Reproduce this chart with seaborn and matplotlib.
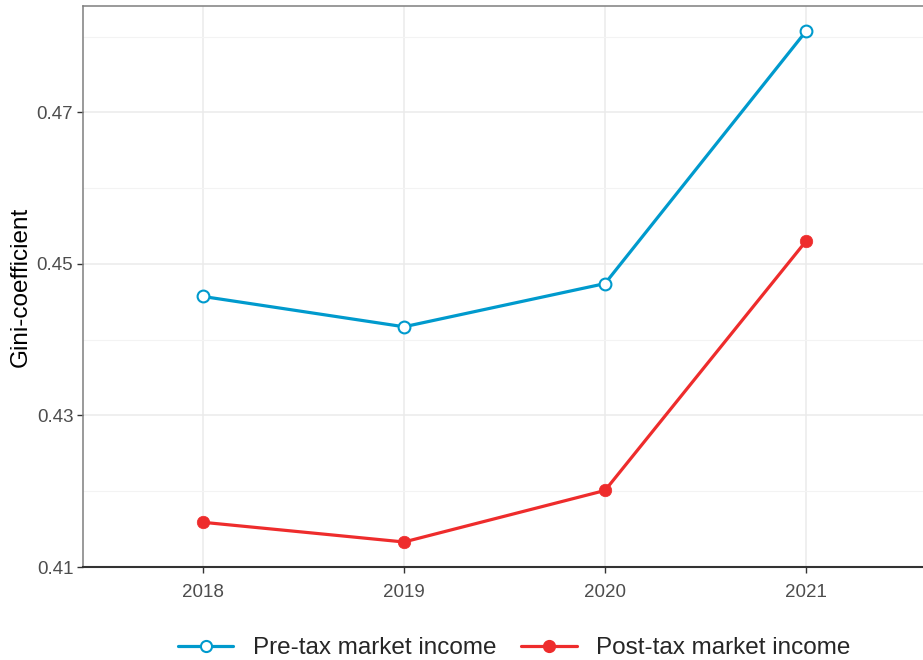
import matplotlib
matplotlib.use("Agg")
import matplotlib.pyplot as plt
import seaborn as sns
import pandas as pd
from matplotlib.lines import Line2D

years = [2018, 2019, 2020, 2021]
pre_tax = [0.4457, 0.4417, 0.4474, 0.4807]
post_tax = [0.4159, 0.4133, 0.4201, 0.4530]
series_names = ["Pre-tax market income", "Post-tax market income"]
y_ticks = [0.41, 0.43, 0.45, 0.47]
y_minor = [0.42, 0.44, 0.46, 0.48]
y_label = "Gini-coefficient"

df = pd.DataFrame({
    "year": years * 2,
    "gini": pre_tax + post_tax,
    "series": [series_names[0]] * len(years) + [series_names[1]] * len(years),
})

sns.set_theme(style="white")
plt.rcParams["font.family"] = ["Liberation Sans", "DejaVu Sans"]

blue = "#009ACD"
red = "#EE2C2C"

fig = plt.figure(figsize=(9.23, 6.60), dpi=100)
W, H = 923, 660
ax = fig.add_axes([83 / W, (660 - 567) / H, (926 - 83) / W, (567 - 6) / H])

sns.lineplot(data=df[df.series == series_names[0]], x="year", y="gini", ax=ax,
             color=blue, linewidth=2.3, marker="o", markersize=8.5,
             markerfacecolor="white", markeredgecolor=blue, markeredgewidth=1.5,
             legend=False, zorder=3)
sns.lineplot(data=df[df.series == series_names[1]], x="year", y="gini", ax=ax,
             color=red, linewidth=2.3, marker="o", markersize=9,
             markerfacecolor=red, markeredgecolor=red, markeredgewidth=0.5,
             legend=False, zorder=3)

ax.set_xlim(2017.403, 2021.597)
ax.set_ylim(0.41, 0.48403)
ax.set_xticks(years)
ax.set_xticklabels([str(y) for y in years])
ax.set_yticks(y_ticks)
ax.set_yticklabels([f"{v:.2f}" for v in y_ticks])
ax.set_yticks(y_minor, minor=True)

ax.grid(True, which="major", color="#EBEBEB", linewidth=1.1, zorder=0)
ax.grid(True, which="minor", axis="y", color="#F3F3F3", linewidth=0.8, zorder=0)
ax.set_axisbelow(True)

ax.tick_params(axis="both", which="major", length=4, width=1.0, color="#333333",
               labelsize=13.5, labelcolor="#4D4D4D", pad=3, bottom=True, left=True)
ax.tick_params(axis="x", which="major", pad=8)
ax.tick_params(axis="both", which="minor", length=0)

for s in ["top", "right", "left"]:
    ax.spines[s].set_color("#7F7F7F")
    ax.spines[s].set_linewidth(1.1)
ax.spines["bottom"].set_color("#333333")
ax.spines["bottom"].set_linewidth(1.5)

ax.set_xlabel("")
ax.set_ylabel(y_label, fontsize=17.5, color="black")
ax.yaxis.set_label_coords(-51 / (926 - 83), 0.5)

handles = [
    Line2D([0], [0], color=blue, linewidth=2.3, marker="o", markersize=8,
           markerfacecolor="white", markeredgecolor=blue, markeredgewidth=1.5),
    Line2D([0], [0], color=red, linewidth=2.3, marker="o", markersize=8.5,
           markerfacecolor=red, markeredgecolor=red),
]
fig.legend(handles, series_names, loc="center", ncol=2,
           bbox_to_anchor=(514 / W, 1 - 648 / H), frameon=False,
           fontsize=17.5, handlelength=2.3, handletextpad=0.8, columnspacing=1.0)

fig.savefig("out.png", dpi=100)
